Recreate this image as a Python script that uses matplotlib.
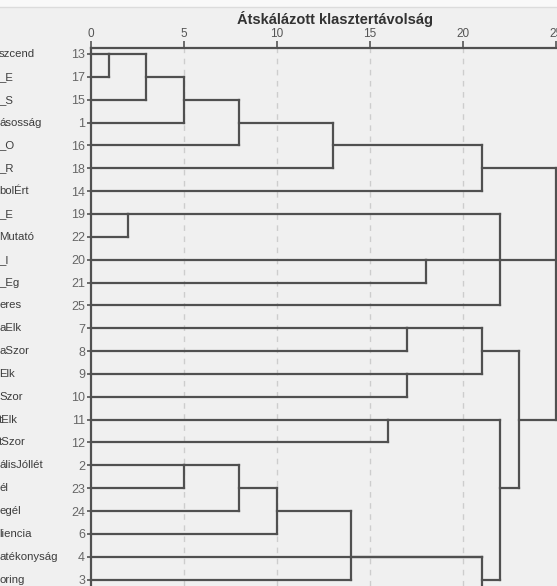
import matplotlib
matplotlib.use("Agg")
import matplotlib.pyplot as plt
from matplotlib.transforms import blended_transform_factory
from matplotlib.patches import Rectangle

plt.rcParams['font.family'] = ['Liberation Sans', 'DejaVu Sans']

# ---- data ----
leaf_ids = ["13", "17", "15", "1", "16", "18", "14", "19", "22", "20", "21", "25",
            "7", "8", "9", "10", "11", "12", "2", "23", "24", "6", "4", "3", "5"]
leaf_names = ["szcend", "_E", "_S", "ásosság", "_O", "_R", "bolÉrt", "_E", "Mutató",
              "_I", "_Eg", "eres", "aElk", "aSzor", "Elk", "Szor", "tElk", "tSzor",
              "álisJóllét", "él", "egél", "liencia", "atékonyság", "oring", ""]
# merge name, children, rescaled distance, leaf beside which the cluster line is drawn
merge_names = ["a1", "a2", "a3", "a4", "a5", "A", "b1", "b2", "B", "c1", "c2", "c3", "c4",
               "e1", "e2", "e3", "e4", "d1", "d2", "C", "root"]
merge_children = [["13", "17"], ["a1", "15"], ["a2", "1"], ["a3", "16"], ["a4", "18"],
                  ["a5", "14"], ["19", "22"], ["20", "21"], ["b1", "b2", "25"],
                  ["7", "8"], ["9", "10"], ["c1", "c2"], ["11", "12"],
                  ["2", "23"], ["e1", "24"], ["e2", "6"], ["e3", "3"], ["e4", "4", "5"],
                  ["c4", "d1"], ["c3", "d2"], ["A", "B", "C"]]
merge_dist = [1.0, 3.0, 5.0, 8.0, 13.0, 21.0, 2.0, 18.0, 22.0, 17.0, 17.0, 21.0, 16.0,
              5.0, 8.0, 10.0, 14.0, 21.0, 22.0, 23.0, 25.0]
merge_row_leaf = ["13", "17", "15", "1", "16", "18", "19", "20", "20", "7", "9", "8", "11",
                  "2", "23", "24", "4", "3", "23", "11", "20"]
tick_vals = [0, 5, 10, 15, 20, 25]
title = "Átskálázott klasztertávolság"

# ---- layout ----
W, H = 557, 586
x0px, x25px = 90.5, 556.0
row0px, rowstep = 54.0, 22.85
axis_top_px = 48.0

fig = plt.figure(figsize=(W / 100, H / 100), dpi=100, facecolor='#f0f0f0')
ax = fig.add_axes([x0px / W, 0, (x25px - x0px) / W, (H - axis_top_px) / H])
ax.set_facecolor('#f0f0f0')

row_of = {lid: i for i, lid in enumerate(leaf_ids)}
for name, rl in zip(merge_names, merge_row_leaf):
    row_of[name] = row_of[rl]
parent_dist = {}
for name, ch, d in zip(merge_names, merge_children, merge_dist):
    for c in ch:
        parent_dist[c] = d
dist_of = {lid: 0.0 for lid in leaf_ids}
for name, d in zip(merge_names, merge_dist):
    dist_of[name] = d

lc = '#505050'
lw = 1.6
# grid
for v in tick_vals[1:-1]:
    ax.axvline(v, color='#cdcdcd', lw=1.0, ls=(0, (4, 4)), zorder=1)

# horizontal segments (node -> parent)
for node, pd in parent_dist.items():
    y = row_of[node]
    ax.plot([dist_of[node], pd], [y, y], color=lc, lw=lw, clip_on=False,
            solid_capstyle='projecting', zorder=3)
# vertical segments
for name, ch, d in zip(merge_names, merge_children, merge_dist):
    rows = [row_of[c] for c in ch]
    ax.plot([d, d], [min(rows), max(rows)], color=lc, lw=lw, clip_on=False,
            solid_capstyle='projecting', zorder=3)

# axes styling
ax.xaxis.tick_top()
ax.set_xticks(tick_vals)
ax.set_xticklabels([str(t) for t in tick_vals])
ax.tick_params(axis='x', direction='out', length=5, width=1.2, color='#555555',
               labelsize=8.5, labelcolor='#555555', pad=1)
ax.set_yticks(range(len(leaf_ids)))
ax.set_yticklabels(leaf_ids)
ax.tick_params(axis='y', direction='out', length=3, width=1.2, color='#555555',
               labelsize=9, labelcolor='#666666', pad=1)
for s in ['right', 'bottom']:
    ax.spines[s].set_visible(False)
for s in ['top', 'left']:
    ax.spines[s].set_color('#505050')
    ax.spines[s].set_linewidth(1.6)

# view limits (set after ticks so they are not expanded)
ax.set_xlim(0, 25)
ax.set_ylim((H - row0px) / rowstep, (axis_top_px - row0px) / rowstep)

# left name fragments (cut off at image edge)
tr = blended_transform_factory(fig.transFigure, ax.transData)
for i, nm in enumerate(leaf_names):
    if nm and i < 24:
        ax.text(-1.0 / W, i, nm, transform=tr, ha='left', va='center', fontsize=8.2,
                color='#3c3c3c', clip_on=False)

# top strip and title
fig.patches.append(Rectangle((0, 1 - 7 / H), 1, 7 / H, transform=fig.transFigure,
                             facecolor='#f9f9f9', edgecolor='none'))
fig.lines.append(plt.Line2D([0, 1], [1 - 7 / H, 1 - 7 / H], transform=fig.transFigure,
                            color='#dcdcdc', lw=1))
fig.text(335 / W, 1 - 19 / H, title, ha='center', va='center', fontsize=10.5,
         fontweight='bold', color='#333333')

fig.savefig('out.png', dpi=100, facecolor=fig.get_facecolor())
